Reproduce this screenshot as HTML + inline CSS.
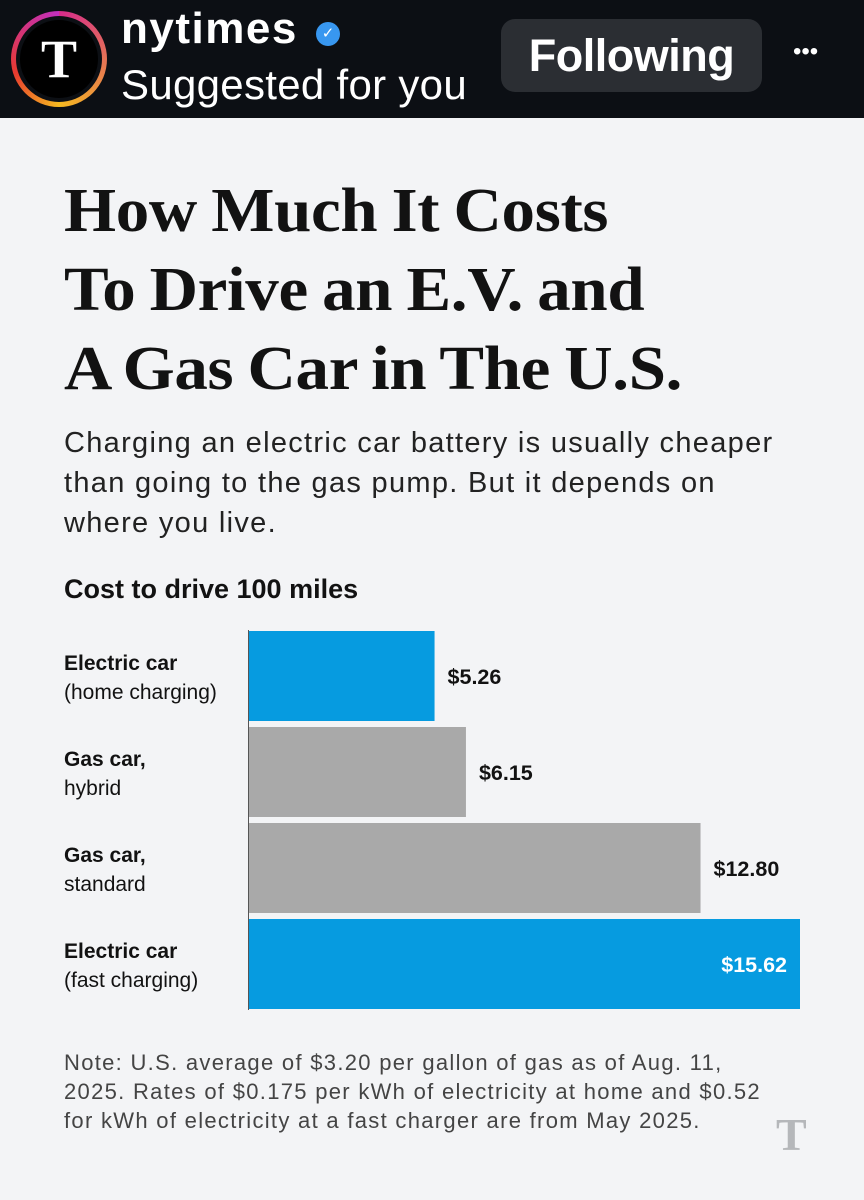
<!DOCTYPE html>
<html><head><meta charset="utf-8"><style>
*{margin:0;padding:0;box-sizing:border-box}
body{width:864px;height:1200px;background:#f3f4f6;font-family:"Liberation Sans",sans-serif;position:relative;overflow:hidden}
.abs{position:absolute}
#hdr{left:0;top:0;width:864px;height:118px;background:#0c0f14}
.title{left:64px;font-family:"Liberation Serif",serif;font-weight:bold;font-size:62px;color:#121212;letter-spacing:-0.3px;word-spacing:-2px;white-space:nowrap;transform:scaleX(1.08);transform-origin:left top}
.dek{left:64px;font-size:29px;color:#222;line-height:40px;width:745px;letter-spacing:1.3px}
.note{left:64px;top:1048px;font-size:22px;color:#444;line-height:29px;width:712px;letter-spacing:1.3px}
</style></head><body>
<div id="hdr" class="abs">
  <div class="abs" style="left:11px;top:11px;width:96px;height:96px;border-radius:50%;background:conic-gradient(#d62b8c,#f5b920 50%,#e83a2f 70%,#c12fbf);"></div>
  <div class="abs" style="left:16px;top:16px;width:86px;height:86px;border-radius:50%;background:#0c0f14"></div>
  <div class="abs" style="left:20px;top:20px;width:78px;height:78px;border-radius:50%;background:#000;color:#fff;font-family:'Liberation Serif',serif;font-weight:bold;font-size:54px;text-align:center;line-height:78px">T</div>
  <div class="abs" style="left:121px;top:4px;font-size:44px;font-weight:bold;color:#fff;letter-spacing:1.5px">nytimes</div>
  <div class="abs" style="left:316px;top:22px;width:24px;height:24px;border-radius:50%;background:#3897f0;color:#fff;font-size:15px;text-align:center;line-height:24px">✓</div>
  <div class="abs" style="left:121px;top:61px;font-size:42px;color:#fff;letter-spacing:0.3px">Suggested for you</div>
  <div class="abs" style="left:501px;top:19px;width:261px;height:73px;border-radius:14px;background:#2b2e33;color:#fff;font-size:45px;font-weight:bold;text-align:center;line-height:73px;letter-spacing:-0.5px">Following</div>
  <div class="abs" style="left:793px;top:38px;font-size:24px;color:#fff;letter-spacing:0px">•••</div>
</div>
<div class="abs title" style="top:172px;line-height:79px">How Much It Costs<br>To Drive an E.V. and<br>A Gas Car in The U.S.</div>
<div class="abs dek" style="top:423px">Charging an electric car battery is usually cheaper than going to the gas pump. But it depends on where you live.</div>
<div class="abs" style="left:64px;top:574px;font-size:27px;font-weight:bold;color:#121212">Cost to drive 100 miles</div>
<svg class="abs" style="left:0;top:0" width="864" height="1200" id="chart"></svg>
<div class="abs note">Note: U.S. average of $3.20 per gallon of gas as of Aug. 11, 2025. Rates of $0.175 per kWh of electricity at home and $0.52 for kWh of electricity at a fast charger are from May 2025.</div>
<div class="abs" style="left:776px;top:1108px;font-family:'Liberation Serif',serif;font-weight:bold;font-size:46px;color:#b5b7ba">T</div>
<script>
const categories=["Electric car","Gas car,","Gas car,","Electric car"];
const subLabels=["(home charging)","hybrid","standard","(fast charging)"];
const values=[5.26,6.15,12.80,15.62];
const valueLabels=["$5.26","$6.15","$12.80","$15.62"];
const kinds=["ev","gas","gas","ev"];
const svg=document.getElementById('chart');
const NS='http://www.w3.org/2000/svg';
const x0=249,xMax=15.62,wMax=551,y0=631,step=96,bh=90;
const xs=v=>x0+v/xMax*wMax;
const ys=i=>y0+i*step;
values.forEach((v,i)=>{
  const r=document.createElementNS(NS,'rect');
  
  
  r.setAttribute('x',x0);r.setAttribute('y',ys(i));
  r.setAttribute('width',xs(v)-x0);r.setAttribute('height',bh);
  r.setAttribute('fill',kinds[i]==='ev'?'#069be0':'#a9a9a9');
  svg.appendChild(r);
  const t=document.createElementNS(NS,'text');
  
  
  const inside=xs(v)+110>864;
  t.setAttribute('x',inside?xs(v)-13:xs(v)+13);
  t.setAttribute('text-anchor',inside?'end':'start');
  t.setAttribute('y',ys(i)+bh/2+8);
  t.setAttribute('font-size','21.5');t.setAttribute('font-weight','bold');
  t.setAttribute('font-family','Liberation Sans, sans-serif');
  t.setAttribute('fill',inside?'#fff':'#121212');
  t.textContent=valueLabels[i];
  svg.appendChild(t);
  const a=document.createElementNS(NS,'text');
  
  
  a.setAttribute('x',64);a.setAttribute('y',ys(i)+39);
  a.setAttribute('font-size','21');a.setAttribute('font-weight','bold');
  a.setAttribute('font-family','Liberation Sans, sans-serif');a.setAttribute('fill','#121212');
  a.textContent=categories[i];svg.appendChild(a);
  const b=document.createElementNS(NS,'text');
  
  
  b.setAttribute('x',64);b.setAttribute('y',ys(i)+68);
  b.setAttribute('font-size','21');
  b.setAttribute('font-family','Liberation Sans, sans-serif');b.setAttribute('fill','#121212');
  b.textContent=subLabels[i];svg.appendChild(b);
});
const ax=document.createElementNS(NS,'line');


ax.setAttribute('x1',248.5);ax.setAttribute('x2',248.5);ax.setAttribute('y1',630);ax.setAttribute('y2',1010);
ax.setAttribute('stroke','#555');ax.setAttribute('stroke-width','1');
svg.appendChild(ax);
</script>
</body></html>
